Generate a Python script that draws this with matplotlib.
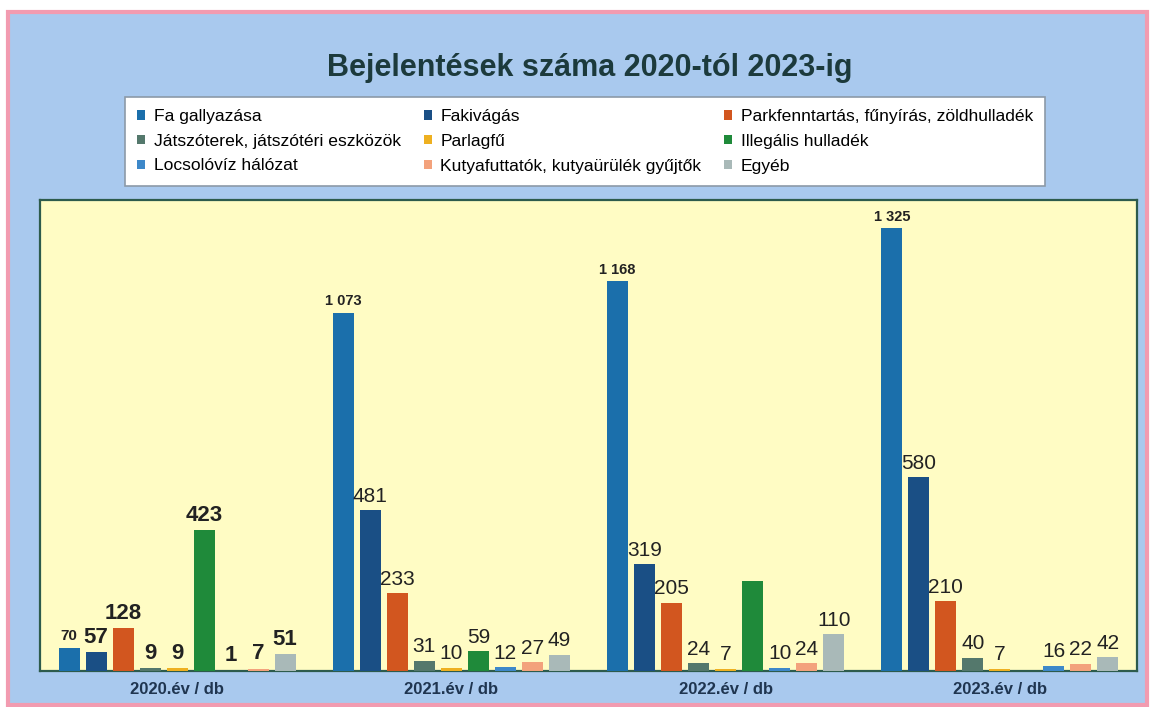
import matplotlib.pyplot as plt
from matplotlib.patches import Rectangle, Patch
import numpy as np

plt.rcParams["font.family"] = ["Liberation Sans Narrow", "Liberation Sans", "DejaVu Sans"]

# Data
#--------------------------------------------------------------------------------------
years = ["2020.év / db", "2021.év / db", "2022.év / db", "2023.év / db"]

series = ["Fa gallyazása", "Fakivágás", "Parkfenntartás, fűnyírás, zöldhulladék",
          "Játszóterek, játszótéri eszközök", "Parlagfű", "Illegális hulladék",
          "Locsolóvíz hálózat", "Kutyafuttatók, kutyaürülék gyűjtők", "Egyéb"]

fa_gallyazasa  = [70, 1073, 1168, 1325]
fakivagas      = [57, 481, 319, 580]
parkfenntartas = [128, 233, 205, 210]
jatszoterek    = [9, 31, 24, 40]
parlagfu       = [9, 10, 7, 7]
illegalis      = [423, 59, 268, 0]
locsolo        = [1, 12, 10, 16]
kutyafuttato   = [7, 27, 24, 22]
egyeb          = [51, 49, 110, 42]

values = [fa_gallyazasa, fakivagas, parkfenntartas, jatszoterek, parlagfu,
          illegalis, locsolo, kutyafuttato, egyeb]

# labels that are not shown on the original (series index, year index)
hidden_labels = [(5, 2), (5, 3)]

colors = ['#1b6fab', '#1a4f85', '#d2561f', '#54786c', '#eeb020',
          '#1f8a3a', '#3d88c9', '#f3a27c', '#a9b9b8']

#=======================================================================================================================

fig = plt.figure(figsize=(11.5, 7.07), dpi=100)
fig.patch.set_facecolor('white')

# pink frame with blue chart area
fig.add_artist(Rectangle((8/1150, 1-705/707), 1139/1150, 693/707, transform=fig.transFigure,
                         facecolor='#a9c9ee', edgecolor='#f29bb0', linewidth=3, zorder=-10))

ax = fig.add_axes([40/1150, 1-671/707, 1097/1150, 471/707])
ax.set_facecolor('#fffcc4')
for sp in ax.spines.values():
     sp.set_color('#2d5b4c')
     sp.set_linewidth(1.6)

n = len(series)
pitch = 0.0985
width = 0.077
x = np.arange(len(years)) + 0.5

for i in range(n):
     pos = x + (i - (n-1)/2)*pitch
     ax.bar(pos, values[i], width=width, color=colors[i], label=series[i], zorder=3)
     for j in range(len(years)):
          v = values[i][j]
          if (i, j) in hidden_labels or v == 0:
               continue
          if v >= 1000:
               txt = "{:,}".format(v).replace(",", " ")
               fs, fw = 10.5, 'bold'
          elif j == 0:
               txt = str(v)
               fs, fw = (11, 'bold') if v == 70 else (16, 'bold')
          else:
               txt = str(v)
               fs, fw = 15, 'normal'
          ax.annotate(txt, (pos[j], v), xytext=(0, 3), textcoords='offset points',
                      ha='center', va='bottom', fontsize=fs, fontweight=fw, color='#222222')

ax.set_xlim(0, len(years))
ax.set_ylim(0, 1410)
ax.set_yticks([])
ax.set_xticks(x)
ax.set_xticklabels(years, fontsize=12, fontweight='bold', color='#1f3550')
ax.tick_params(axis='x', length=0, pad=8)

fig.text(0.513, 1-68/707, "Bejelentések száma 2020-tól 2023-ig", ha='center', va='center',
         fontsize=22, fontweight='bold', color='#1c3a3c')

# legend in row order (matplotlib fills columns first)
handles = [Patch(facecolor=colors[i], edgecolor='none') for i in range(n)]
order = [0, 3, 6, 1, 4, 7, 2, 5, 8]
leg = fig.legend([handles[k] for k in order], [series[k] for k in order], ncol=3,
                 loc='upper left', bbox_to_anchor=(125/1150, 1-97/707),
                 frameon=True, fancybox=False, framealpha=1, fontsize=12.6,
                 handlelength=0.45, handleheight=0.45, handletextpad=0.5,
                 columnspacing=1.3, labelspacing=0.55, borderaxespad=0, borderpad=0.7)
leg.get_frame().set_facecolor('white')
leg.get_frame().set_edgecolor('#8c9aa8')
leg.get_frame().set_linewidth(1.2)

plt.savefig('out.png', dpi=100, facecolor=fig.get_facecolor())
